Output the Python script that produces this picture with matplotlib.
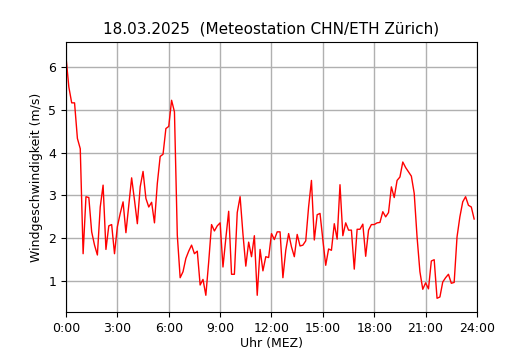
import numpy as np
import matplotlib
matplotlib.use('Agg')
import matplotlib.pyplot as plt

# 10-Minuten-Werte, 0:00 bis 23:50
wind_ms = [
    6.23, 5.53, 5.16, 5.16, 4.33, 4.09, 1.64, 2.97, 2.95, 2.15,
    1.84, 1.61, 2.73, 3.24, 1.74, 2.29, 2.32, 1.64, 2.27, 2.58,
    2.85, 2.13, 2.77, 3.41, 2.89, 2.34, 3.20, 3.56, 2.93, 2.73,
    2.84, 2.36, 3.28, 3.91, 3.96, 4.56, 4.61, 5.22, 4.95, 2.07,
    1.08, 1.22, 1.53, 1.70, 1.84, 1.64, 1.70, 0.91, 1.04, 0.67,
    1.45, 2.32, 2.17, 2.29, 2.36, 1.33, 2.00, 2.63, 1.16, 1.16,
    2.60, 2.97, 2.10, 1.35, 1.91, 1.57, 2.06, 0.67, 1.74, 1.24,
    1.57, 1.55, 2.11, 1.97, 2.15, 2.15, 1.08, 1.72, 2.11, 1.80,
    1.57, 2.09, 1.82, 1.84, 1.94, 2.73, 3.35, 1.96, 2.55, 2.58,
    1.96, 1.37, 1.75, 1.72, 2.34, 1.98, 3.25, 2.06, 2.36, 2.19,
    2.19, 1.28, 2.21, 2.21, 2.33, 1.58, 2.19, 2.32, 2.32, 2.36,
    2.37, 2.62, 2.50, 2.60, 3.20, 2.95, 3.35, 3.43, 3.78, 3.65,
    3.55, 3.45, 3.05, 2.03, 1.22, 0.81, 0.96, 0.82, 1.47, 1.50,
    0.60, 0.63, 0.98, 1.08, 1.16, 0.95, 0.97, 2.03, 2.50, 2.85,
    2.97, 2.77, 2.73, 2.45,
]
hours = np.arange(len(wind_ms)) / 6.0

tick_hours = list(range(0, 25, 3))
tick_labels = [f"{h}:00" for h in tick_hours]

fig = plt.figure(figsize=(5.3, 3.5), dpi=100)
ax = fig.add_axes([0.1245, 0.1086, 0.7755, 0.7714])

ax.plot(hours, wind_ms, color='red', linewidth=1)

ax.set_xlim(0, 24)
ax.set_ylim(0.28, 6.58)
ax.set_xticks(tick_hours)
ax.set_xticklabels(tick_labels)
ax.set_yticks([1, 2, 3, 4, 5, 6])
ax.tick_params(labelsize=9)
ax.grid(True, color='#b0b0b0', linewidth=1)

ax.set_title('18.03.2025  (Meteostation CHN/ETH Zürich)', fontsize=11)
ax.set_xlabel('Uhr (MEZ)', fontsize=9, labelpad=2)
ax.set_ylabel('Windgeschwindigkeit (m/s)', fontsize=9)

fig.savefig('out.png', dpi=100)
